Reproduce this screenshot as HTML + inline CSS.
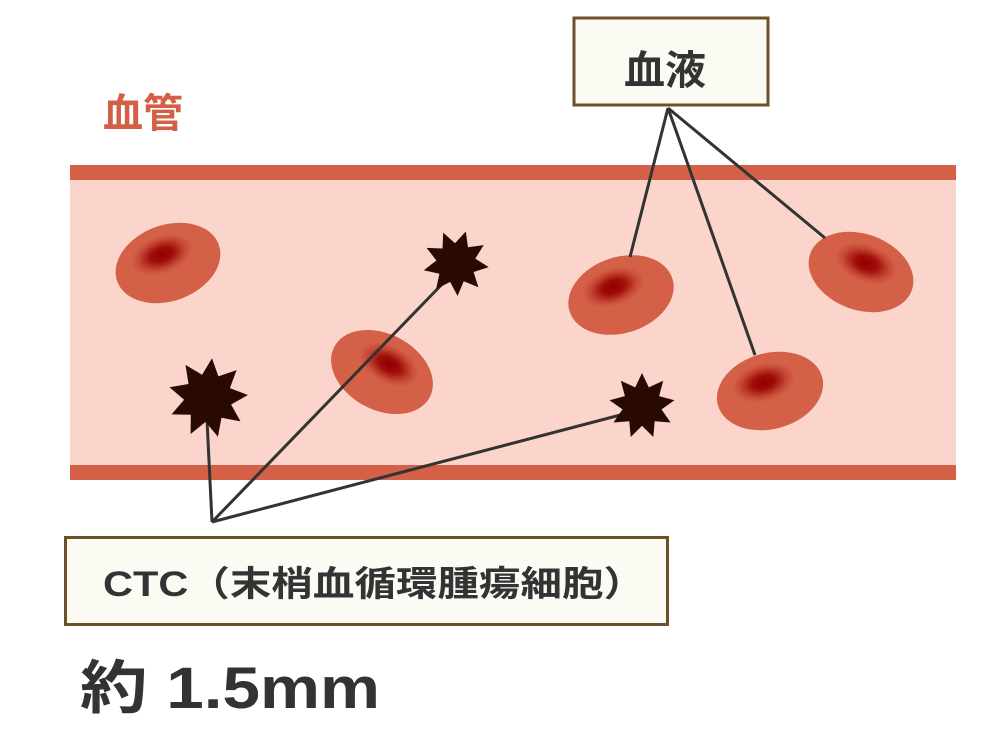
<!DOCTYPE html>
<html><head><meta charset="utf-8"><style>
html,body{margin:0;padding:0;background:#fff;width:1006px;height:755px;overflow:hidden}
svg{display:block}
text{font-family:"Liberation Sans","Noto Sans CJK JP",sans-serif;font-weight:bold}
</style></head><body>
<svg id="s" width="1006" height="755" viewBox="0 0 1006 755" xmlns="http://www.w3.org/2000/svg">
<defs>
<radialGradient id="n"><stop offset="0" stop-color="#900000"/><stop offset="0.35" stop-color="#a00c08"/><stop offset="0.75" stop-color="#c64a36"/><stop offset="1" stop-color="#d46147"/></radialGradient>
</defs>
<rect x="0" y="0" width="1006" height="755" fill="#fff"/>
<text x="103" y="127" font-size="40" fill="#d35f46">血管</text>
<rect x="70" y="165" width="886" height="315" fill="#d46147"/>
<rect x="70" y="180" width="886" height="285" fill="#fbd5cc"/>
<g id="cells" fill="#d46147">
<g transform="translate(168,263) rotate(-20)"><ellipse rx="54" ry="38"/><ellipse cx="-3" cy="-10" rx="32" ry="19" fill="url(#n)"/></g>
<g transform="translate(382,372) rotate(28)"><ellipse rx="54" ry="38"/><ellipse cx="3" cy="-10" rx="32" ry="19" fill="url(#n)"/></g>
<g transform="translate(621,295) rotate(-18)"><ellipse rx="54" ry="38"/><ellipse cx="-5" cy="-10" rx="32" ry="19" fill="url(#n)"/></g>
<g transform="translate(861,272) rotate(20)"><ellipse rx="54" ry="38"/><ellipse cx="2" cy="-10" rx="32" ry="19" fill="url(#n)"/></g>
<g transform="translate(770,391) rotate(-15)"><ellipse rx="54" ry="38"/><ellipse cx="-4" cy="-10" rx="32" ry="19" fill="url(#n)"/></g>
</g>
<g stroke="#333" stroke-width="3" fill="none">
<line x1="668" y1="108" x2="630" y2="257"/>
<line x1="668" y1="108" x2="755" y2="355"/>
<line x1="668" y1="108" x2="825" y2="238"/>
<line x1="212" y1="522" x2="207" y2="420"/>
<line x1="212" y1="522" x2="448" y2="278"/>
<line x1="212" y1="522" x2="628" y2="413"/>
</g>
<g id="stars" fill="#280a02"></g>
<rect x="574" y="18" width="194" height="87" fill="#fbfaf3" stroke="#6b5028" stroke-width="3"/>
<text x="624" y="84" font-size="40" fill="#333" textLength="82" lengthAdjust="spacingAndGlyphs">血液</text>
<rect x="65.5" y="537.5" width="602" height="87" fill="#fbfaf3" stroke="#6b5028" stroke-width="3"/>
<text x="103" y="596" font-size="35" fill="#333" textLength="542" lengthAdjust="spacingAndGlyphs">CTC（末梢血循環腫瘍細胞）</text>
<text x="80" y="708" font-size="58" fill="#333" textLength="300" lengthAdjust="spacingAndGlyphs">約 1.5mm</text>
</svg>
<script>
var g=document.getElementById('stars');
[[208,398,40,0.1],[456,263,33,0.3],[642,406,33,0]].forEach(function(s){
 var p=[],n=9;for(var i=0;i<2*n;i++){var r=i%2?s[2]*0.6:s[2];var a=-Math.PI/2+s[3]+i*Math.PI/n;p.push((s[0]+r*Math.cos(a)).toFixed(1)+','+(s[1]+r*Math.sin(a)).toFixed(1));}
 var e=document.createElementNS('http://www.w3.org/2000/svg','polygon');e.setAttribute('points',p.join(' '));g.appendChild(e);
});
</script>
</body></html>
